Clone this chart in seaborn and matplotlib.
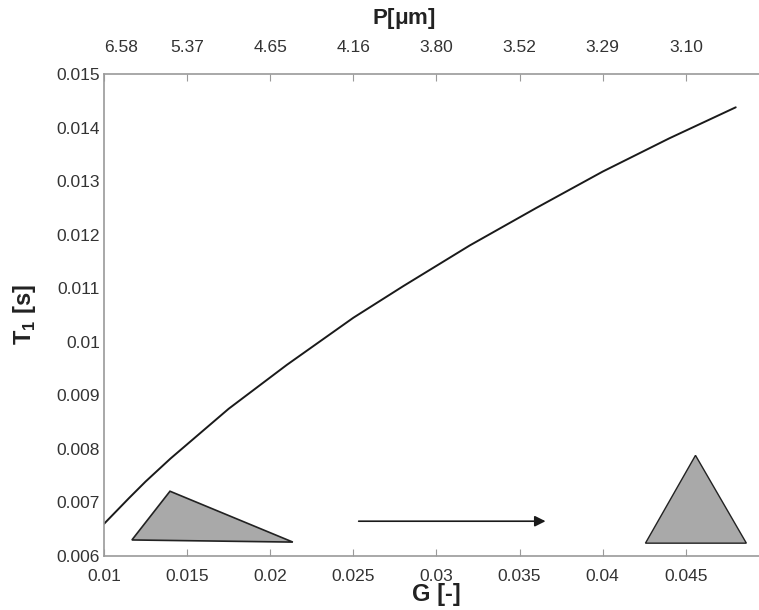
import matplotlib
matplotlib.use("Agg")
import matplotlib.pyplot as plt
import seaborn as sns

# ----- Data -----
g_values = [0.0100, 0.0115, 0.0125, 0.0140, 0.0175, 0.0210, 0.0250, 0.0280,
            0.0300, 0.0320, 0.0360, 0.0400, 0.0440, 0.0480]
t1_values = [0.00660, 0.00708, 0.00739, 0.00782, 0.00875, 0.00957, 0.01045, 0.01104,
             0.01142, 0.01180, 0.01250, 0.01318, 0.01380, 0.01438]

bottom_ticks = [0.01, 0.015, 0.02, 0.025, 0.03, 0.035, 0.04, 0.045]
bottom_labels = ["0.01", "0.015", "0.02", "0.025", "0.03", "0.035", "0.04", "0.045"]
left_ticks = [0.006, 0.007, 0.008, 0.009, 0.010, 0.011, 0.012, 0.013, 0.014, 0.015]
left_labels = ["0.006", "0.007", "0.008", "0.009", "0.01", "0.011",
               "0.012", "0.013", "0.014", "0.015"]
top_labels = ["6.58", "5.37", "4.65", "4.16", "3.80", "3.52", "3.29", "3.10"]

# triangle sketches and arrow (data coordinates)
tri_left_x = [0.01168, 0.01397, 0.02136]
tri_left_y = [0.00630, 0.00721, 0.00626]
tri_right_x = [0.04257, 0.04558, 0.04864]
tri_right_y = [0.00624, 0.00788, 0.00624]
arrow_x = [0.02532, 0.03656]
arrow_y = [0.00665, 0.00665]

# ----- Style -----
sns.set_style("white", {"axes.spines.right": False, "ytick.right": False})
plt.rcParams["font.family"] = ["Liberation Sans", "DejaVu Sans"]

fig = plt.figure(figsize=(7.59, 6.10), dpi=100)
# the original box is cut off by the right edge of the picture, so the
# axes run right up to the edge and the x limit stops just short of 0.05
ax = fig.add_axes([0.137, 0.0885, 0.863, 0.790])
ax.patch.set_edgecolor("none")

sns.lineplot(x=g_values, y=t1_values, ax=ax, color="#1a1a1a", linewidth=1.4)

ax.fill(tri_left_x, tri_left_y, facecolor="#a9a9a9", edgecolor="#222222", linewidth=1.2)
ax.fill(tri_right_x, tri_right_y, facecolor="#a9a9a9", edgecolor="#222222", linewidth=1.0)
ax.annotate("", xy=(arrow_x[1], arrow_y[1]), xytext=(arrow_x[0], arrow_y[0]),
            arrowprops=dict(arrowstyle="-|>", color="#1a1a1a", lw=1.2,
                            mutation_scale=16, shrinkA=0, shrinkB=0))

ax.set_xlim(0.01, 0.0494)
ax.set_ylim(0.006, 0.015)
ax.set_xticks(bottom_ticks)
ax.set_xticklabels(bottom_labels)
ax.set_yticks(left_ticks)
ax.set_yticklabels(left_labels)

spine_col = "#9a9a9a"
ax.spines["right"].set_color("none")
ax.spines["right"].set_visible(False)
ax.spines["top"].set_visible(False)
for name in ["left", "bottom"]:
    ax.spines[name].set_color(spine_col)
    ax.spines[name].set_linewidth(1.2)

ax.tick_params(axis="both", direction="in", length=5, color=spine_col,
               labelsize=12.5, labelcolor="#333333")
ax.tick_params(axis="x", pad=9)
ax.tick_params(axis="y", pad=3, right=False)

ax.set_xlabel("G [-]", fontsize=17, fontweight="bold", color="#222222")
ax.xaxis.set_label_coords(0.507, -0.055)
ax.set_ylabel("T$_\\mathregular{1}$ [s]", fontsize=17, fontweight="bold", color="#222222")
ax.yaxis.set_label_coords(-0.1, 0.5)

# top axis: P[um] at the same positions
ax2 = ax.twiny()
ax2.yaxis.set_visible(False)
ax2.set_xlim(ax.get_xlim())
ax2.set_xticks(bottom_ticks)
ax2.set_xticklabels(top_labels)
for name in ["left", "right", "bottom"]:
    ax2.spines[name].set_color("none")
    ax2.spines[name].set_visible(False)
ax2.spines["top"].set_color(spine_col)
ax2.spines["top"].set_linewidth(1.2)
ax2.tick_params(axis="x", direction="in", length=5, color=spine_col,
                labelsize=12.5, labelcolor="#333333", pad=14)
ax2.get_xticklabels()[0].set_horizontalalignment("left")
ax2.set_xlabel("P[$\\mathregular{\\mu}$m]", fontsize=16, fontweight="bold", color="#222222")
ax2.xaxis.set_label_coords(0.458, 1.105)

fig.savefig("out.png", dpi=100)
